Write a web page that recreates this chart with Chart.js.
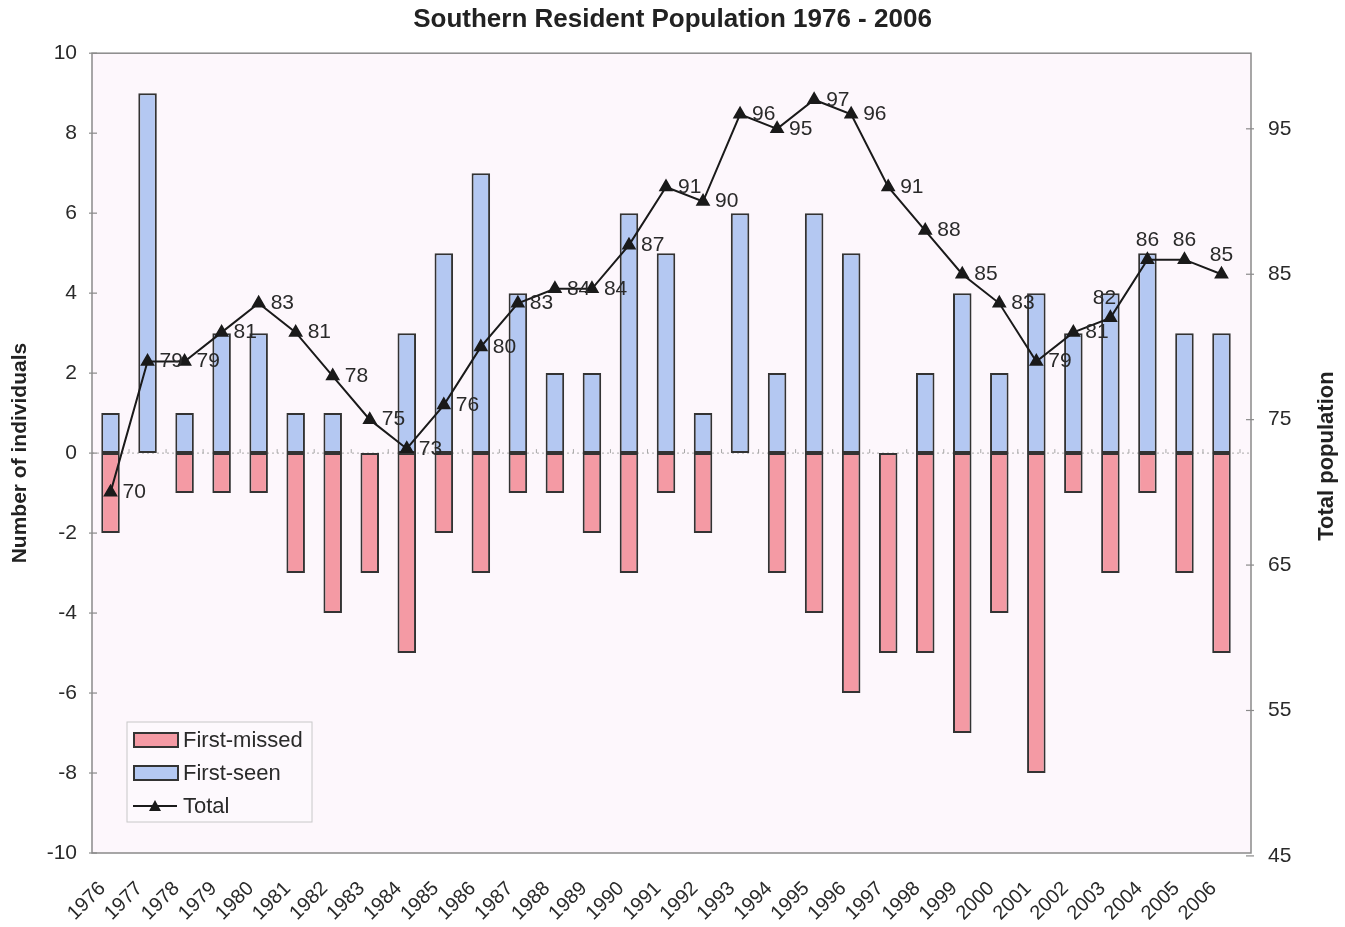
<!DOCTYPE html>
<html>
<head>
<meta charset="utf-8">
<script src="https://cdn.jsdelivr.net/npm/chart.js@4.4.1/dist/chart.umd.min.js"></script>
<style>
  html, body { margin: 0; padding: 0; background: #fff; }
  #wrap { width: 1345px; height: 927px; }
</style>
</head>
<body>
<div id="wrap"><canvas id="chart"></canvas></div>
<script>
const years = ['1976','1977','1978','1979','1980','1981','1982','1983','1984','1985','1986',
               '1987','1988','1989','1990','1991','1992','1993','1994','1995','1996',
               '1997','1998','1999','2000','2001','2002','2003','2004','2005','2006'];
const firstSeen   = [1, 9, 1, 3, 3, 1, 1, 0, 3, 5, 7, 4, 2, 2, 6, 5, 1, 6, 2, 6, 5, 0, 2, 4, 2, 4, 3, 4, 5, 3, 3];
const firstMissed = [-2, 0, -1, -1, -1, -3, -4, -3, -5, -2, -3, -1, -1, -2, -3, -1, -2, 0, -3, -4, -6, -5, -5, -7, -4, -8, -1, -3, -1, -3, -5];
const total       = [70, 79, 79, 81, 83, 81, 78, 75, 73, 76, 80, 83, 84, 84, 87, 91, 90, 96, 95, 97, 96, 91, 88, 85, 83, 79, 81, 82, 86, 86, 85];
const leftTicks   = [-10, -8, -6, -4, -2, 0, 2, 4, 6, 8, 10];
const rightTicks  = [45, 55, 65, 75, 85, 95];

const FONT = "'Liberation Sans', Arial, sans-serif";
const RED = '#f49aa4';
const BLUE = '#b4c8f2';
const EDGE = '#333333';
const FRAME_EXTRA = 11;   // plot frame runs a bit past the last category

// background, plot frame, zero line, tick marks, point labels, legend box, right title
const decor = {
  id: 'decor',
  beforeDraw(chart) {
    const c = chart.ctx, a = chart.chartArea;
    c.save();
    c.fillStyle = '#ffffff';
    c.fillRect(0, 0, chart.width, chart.height);
    c.fillStyle = '#fdf7fc';
    c.fillRect(a.left, a.top, a.right - a.left + FRAME_EXTRA, a.bottom - a.top);
    c.restore();
  },
  beforeDatasetsDraw(chart) {
    const c = chart.ctx, a = chart.chartArea;
    const y0 = chart.scales.y.getPixelForValue(0);
    const xs = chart.scales.x;
    c.save();
    c.strokeStyle = '#a8a8a8';
    c.lineWidth = 1;
    c.setLineDash([2, 3]);
    c.beginPath();
    c.moveTo(a.left, y0); c.lineTo(a.right + FRAME_EXTRA, y0);
    c.stroke();
    c.setLineDash([]);
    const step = xs.getPixelForValue(1) - xs.getPixelForValue(0);
    for (let i = 1; i <= years.length; i++) {
      const x = xs.getPixelForValue(0) - step / 2 + i * step;
      c.beginPath();
      c.moveTo(x, y0 - 4); c.lineTo(x, y0);
      c.stroke();
    }
    c.restore();
  },
  afterDraw(chart) {
    const c = chart.ctx, a = chart.chartArea;
    const rightEdge = a.right + FRAME_EXTRA;
    c.save();
    // frame
    c.strokeStyle = '#8a8a8a';
    c.lineWidth = 1.5;
    c.strokeRect(a.left, a.top, rightEdge - a.left, a.bottom - a.top);

    // axis tick marks crossing the frame
    c.lineWidth = 1.2;
    leftTicks.forEach(v => {
      const y = chart.scales.y.getPixelForValue(v);
      c.beginPath(); c.moveTo(a.left - 3, y); c.lineTo(a.left + 5, y); c.stroke();
    });
    rightTicks.forEach(v => {
      const y = chart.scales.y1.getPixelForValue(v);
      c.beginPath(); c.moveTo(rightEdge - 5, y); c.lineTo(rightEdge + 3, y); c.stroke();
    });

    // value labels on the Total line
    const meta = chart.getDatasetMeta(2);
    c.font = '21px ' + FONT;
    c.fillStyle = '#2a2a2a';
    meta.data.forEach((pt, i) => {
      if (i >= 27) {
        c.textAlign = 'center';
        c.textBaseline = 'bottom';
        c.fillText(String(total[i]), pt.x - (i === 27 ? 6 : 0), pt.y - 9);
      } else {
        c.textAlign = 'left';
        c.textBaseline = 'middle';
        c.fillText(String(total[i]), pt.x + 12, pt.y);
      }
    });

    // legend
    const lx = 127, ly = 722, lw = 185, lh = 100;
    c.fillStyle = '#fdf9fd';
    c.fillRect(lx, ly, lw, lh);
    c.strokeStyle = '#c8c8c8';
    c.lineWidth = 1;
    c.strokeRect(lx, ly, lw, lh);
    const rows = [
      { label: 'First-missed', fill: RED },
      { label: 'First-seen', fill: BLUE },
      { label: 'Total', line: true }
    ];
    c.font = '22px ' + FONT;
    c.textAlign = 'left';
    c.textBaseline = 'middle';
    rows.forEach((r, k) => {
      const cy = 740 + k * 33;
      if (r.line) {
        c.strokeStyle = '#1a1a1a';
        c.lineWidth = 2;
        c.beginPath();
        c.moveTo(133, cy); c.lineTo(177, cy);
        c.stroke();
        c.fillStyle = '#1a1a1a';
        c.beginPath();
        c.moveTo(155, cy - 6); c.lineTo(161, cy + 5); c.lineTo(149, cy + 5);
        c.closePath();
        c.fill();
      } else {
        c.fillStyle = r.fill;
        c.fillRect(134, cy - 7, 44, 14);
        c.strokeStyle = EDGE;
        c.lineWidth = 2;
        c.strokeRect(134, cy - 7, 44, 14);
      }
      c.fillStyle = '#2a2a2a';
      c.fillText(r.label, 183, cy + 1);
    });

    // right axis title, reading bottom-to-top
    c.translate(1327, (a.top + a.bottom) / 2 + 3);
    c.rotate(-Math.PI / 2);
    c.font = 'bold 22px ' + FONT;
    c.fillStyle = '#222';
    c.textAlign = 'center';
    c.textBaseline = 'middle';
    c.fillText('Total population', 0, 0);
    c.restore();
  }
};

new Chart(document.getElementById('chart'), {
  type: 'bar',
  data: {
    labels: years,
    datasets: [
      {
        label: 'First-missed',
        data: firstMissed,
        backgroundColor: RED,
        borderColor: EDGE,
        borderWidth: 2,
        borderSkipped: false,
        categoryPercentage: 1,
        barPercentage: 0.5,
        yAxisID: 'y',
        order: 2
      },
      {
        label: 'First-seen',
        data: firstSeen,
        backgroundColor: BLUE,
        borderColor: EDGE,
        borderWidth: 2,
        borderSkipped: false,
        categoryPercentage: 1,
        barPercentage: 0.5,
        yAxisID: 'y',
        order: 2
      },
      {
        type: 'line',
        label: 'Total',
        data: total,
        borderColor: '#1a1a1a',
        borderWidth: 2,
        pointStyle: 'triangle',
        pointRadius: 6.5,
        pointBackgroundColor: '#1a1a1a',
        pointBorderColor: '#1a1a1a',
        tension: 0,
        yAxisID: 'y1',
        order: 0
      }
    ]
  },
  options: {
    responsive: true,
    maintainAspectRatio: false,
    animation: false,
    layout: { padding: 0 },
    plugins: {
      legend: { display: false },
      tooltip: { enabled: false },
      title: {
        display: true,
        text: 'Southern Resident Population 1976 - 2006',
        color: '#222',
        font: { family: FONT, size: 26, weight: 'bold' },
        padding: { top: 4, bottom: 18 }
      }
    },
    scales: {
      x: {
        stacked: true,
        offset: true,
        grid: { display: false },
        border: { display: false },
        ticks: {
          minRotation: 45,
          maxRotation: 45,
          autoSkip: false,
          color: '#2a2a2a',
          padding: 16,
          labelOffset: -8,
          font: { family: FONT, size: 20 }
        },
        afterFit(s) { s.height = 74; }
      },
      y: {
        stacked: true,
        position: 'left',
        min: -10,
        max: 10,
        border: { display: false },
        grid: { display: false },
        afterBuildTicks(s) { s.ticks = leftTicks.map(v => ({ value: v })); },
        ticks: {
          color: '#2a2a2a',
          padding: 7,
          font: { family: FONT, size: 21 }
        },
        title: {
          display: true,
          text: 'Number of individuals',
          color: '#222',
          padding: { top: 8, bottom: 0 },
          font: { family: FONT, size: 21, weight: 'bold' }
        },
        afterFit(s) { s.width = 92; }
      },
      y1: {
        position: 'right',
        min: 45.2,
        max: 100.2,
        border: { display: false },
        grid: { display: false },
        afterBuildTicks(s) { s.ticks = rightTicks.map(v => ({ value: v })); },
        ticks: {
          color: '#2a2a2a',
          padding: 20,
          font: { family: FONT, size: 21 }
        },
        afterFit(s) { s.width = 105; }
      }
    }
  },
  plugins: [decor]
});
</script>
</body>
</html>
